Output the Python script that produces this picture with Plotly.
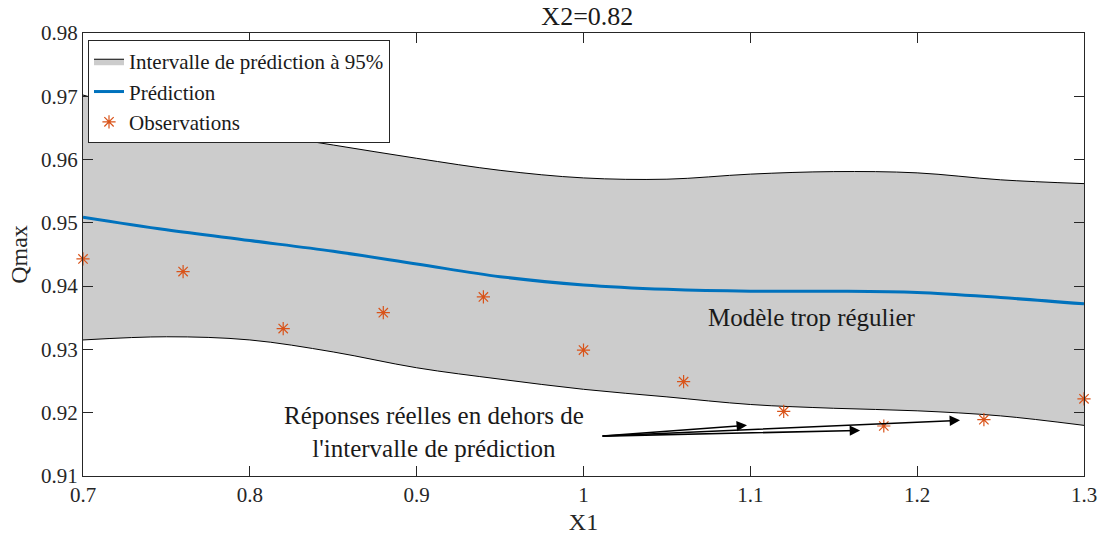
import plotly.graph_objects as go

# ---- data ----
x_grid = [0.70, 0.75, 0.80, 0.85, 0.90, 0.95, 1.00, 1.05, 1.10, 1.15, 1.20, 1.25, 1.30]
upper = [0.9702, 0.9667, 0.9644, 0.9623, 0.9602, 0.9583, 0.9571, 0.9569, 0.9577, 0.9581, 0.9579, 0.9568, 0.9562]
pred = [0.9509, 0.9489, 0.9472, 0.9455, 0.9435, 0.9415, 0.9402, 0.9395, 0.9392, 0.9392, 0.9390, 0.9382, 0.9372]
lower = [0.9315, 0.9320, 0.9315, 0.9296, 0.9271, 0.9253, 0.9237, 0.9225, 0.9213, 0.9207, 0.9203, 0.9195, 0.9180]

obs_x = [0.70, 0.76, 0.82, 0.88, 0.94, 1.00, 1.06, 1.12, 1.18, 1.24, 1.30]
obs_y = [0.9443, 0.9423, 0.9333, 0.9358, 0.9383, 0.9299, 0.9249, 0.9202, 0.9179, 0.9189, 0.9222]

arrow_start = (1.0105, 0.9163)
arrow_heads = [(1.098, 0.9180), (1.1658, 0.9172), (1.2257, 0.9188)]

x_ticks = [0.7, 0.8, 0.9, 1.0, 1.1, 1.2, 1.3]
x_ticklabels = ["0.7", "0.8", "0.9", "1", "1.1", "1.2", "1.3"]
y_ticks = [0.91, 0.92, 0.93, 0.94, 0.95, 0.96, 0.97, 0.98]
y_ticklabels = ["0.91", "0.92", "0.93", "0.94", "0.95", "0.96", "0.97", "0.98"]

FONT = "Liberation Serif"
AX = "#262626"
TXT = "#1a1a1a"

fig = go.Figure()

fig.add_trace(go.Scatter(
    x=x_grid, y=lower, mode="lines", line=dict(color="black", width=1, shape="spline"),
    showlegend=False, hoverinfo="skip"))
fig.add_trace(go.Scatter(
    x=x_grid, y=upper, mode="lines", fill="tonexty", fillcolor="#cccccc",
    line=dict(color="black", width=1, shape="spline"),
    name="Intervalle de prédiction à 95%"))
fig.add_trace(go.Scatter(
    x=x_grid, y=pred, mode="lines", line=dict(color="#0072BD", width=3, shape="spline"),
    name="Prédiction"))
fig.add_trace(go.Scatter(
    x=obs_x, y=obs_y, mode="markers",
    marker=dict(symbol="asterisk", size=11, line=dict(color="#D95319", width=1.2), color="#D95319"),
    name="Observations", cliponaxis=False))

for hx, hy in arrow_heads:
    fig.add_annotation(
        x=hx, y=hy, ax=arrow_start[0], ay=arrow_start[1], xref="x", yref="y",
        axref="x", ayref="y", showarrow=True, arrowhead=2, arrowsize=1.3,
        arrowwidth=1.6, arrowcolor="black", text="")

fig.add_annotation(
    x=0.9104, y=0.9170, xref="x", yref="y", showarrow=False,
    text="Réponses réelles en dehors de<br>l'intervalle de prédiction",
    font=dict(family=FONT, size=25, color=TXT), align="center",
    xanchor="center", yanchor="middle")
fig.add_annotation(
    x=1.0734, y=0.935, xref="x", yref="y", showarrow=False,
    text="Modèle trop régulier", font=dict(family=FONT, size=25, color=TXT),
    xanchor="left", yanchor="middle")

fig.update_layout(
    width=1103, height=544,
    margin=dict(l=83, r=19, t=33, b=68, autoexpand=False),
    paper_bgcolor="white", plot_bgcolor="white",
    font=dict(family=FONT, size=21, color=AX),
    title=dict(text="X2=0.82", x=0.5325, xanchor="center", y=0.97, yanchor="middle",
               font=dict(family=FONT, size=26, color=TXT)),
    legend=dict(x=0.005, y=0.984, xanchor="left", yanchor="top",
                bgcolor="white", bordercolor=AX, borderwidth=1,
                font=dict(family=FONT, size=21, color=TXT),
                tracegroupgap=0, itemwidth=30, traceorder="normal"),
    showlegend=True,
)
fig.update_xaxes(
    range=[0.7, 1.3], tickvals=x_ticks, ticktext=x_ticklabels, automargin=False,
    showgrid=False, zeroline=False, showline=True, linecolor=AX, linewidth=1,
    mirror="ticks", ticks="inside", ticklen=10, tickcolor=AX,
    tickfont=dict(family=FONT, size=21, color=AX),
    title=dict(text="X1", font=dict(family=FONT, size=24, color=AX), standoff=6))
fig.update_yaxes(
    range=[0.91, 0.98], tickvals=y_ticks, ticktext=y_ticklabels, automargin=False,
    showgrid=False, zeroline=False, showline=True, linecolor=AX, linewidth=1,
    mirror="ticks", ticks="inside", ticklen=10, tickcolor=AX,
    tickfont=dict(family=FONT, size=21, color=AX),
    title=dict(text="Qmax", font=dict(family=FONT, size=24, color=AX), standoff=6))

fig.write_html("out.html", config={"displayModeBar": False},
               post_script="document.body.style.margin='0';")
